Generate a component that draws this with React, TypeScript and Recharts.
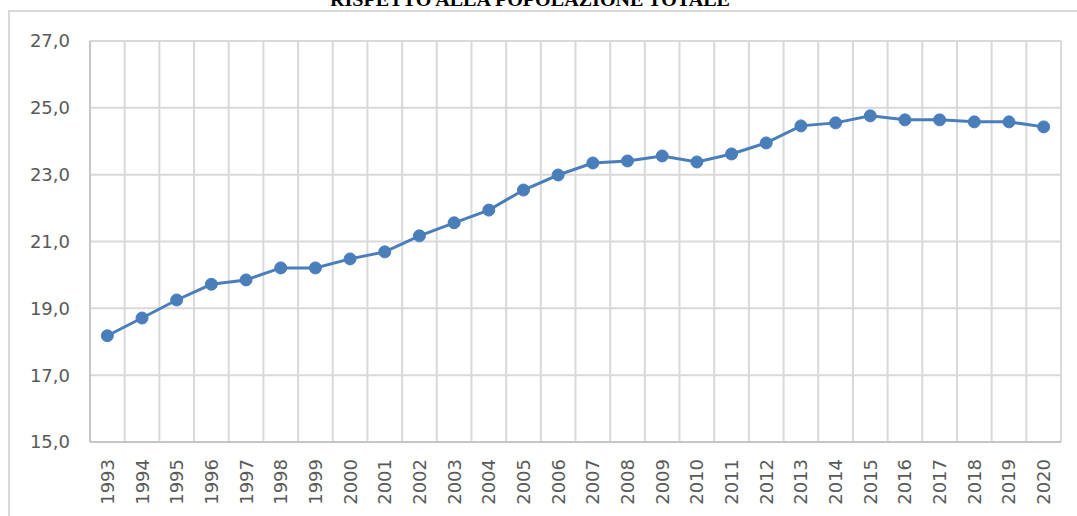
import { LineChart, Line, XAxis, YAxis, CartesianGrid } from "recharts";

const years = [
  "1993", "1994", "1995", "1996", "1997", "1998", "1999", "2000", "2001", "2002",
  "2003", "2004", "2005", "2006", "2007", "2008", "2009", "2010", "2011", "2012",
  "2013", "2014", "2015", "2016", "2017", "2018", "2019", "2020",
];
const values = [
  18.18, 18.71, 19.25, 19.72, 19.85, 20.21, 20.21, 20.48, 20.69, 21.17,
  21.56, 21.94, 22.54, 22.99, 23.35, 23.41, 23.56, 23.38, 23.62, 23.95,
  24.46, 24.55, 24.76, 24.64, 24.64, 24.58, 24.58, 24.43,
];
const yTicks = [15, 17, 19, 21, 23, 25, 27];
const title = "RISPETTO ALLA POPOLAZIONE TOTALE";

const data = years.map((year, i) => ({ year, value: values[i] }));

const BLUE = "#4a7ebb";
const GRID = "#d9d9d9";
const TEXT = "#595959";
const FONT = "'DejaVu Sans', sans-serif";

function YearTick(props: any) {
  const { x, y, payload } = props;
  return (
    <text
      x={x}
      y={y}
      transform={`rotate(-90, ${x}, ${y})`}
      textAnchor="end"
      dominantBaseline="central"
      fill={TEXT}
      fontSize={18}
      fontFamily={FONT}
    >
      {payload.value}
    </text>
  );
}

export default function App() {
  return (
    <div style={{ position: "absolute", left: 0, top: 0, width: 1077, height: 516, overflow: "hidden", background: "#fff" }}>
      <div
        style={{
          position: "absolute",
          left: 8,
          top: 10,
          width: 1069,
          height: 506,
          borderTop: `2px solid ${GRID}`,
          borderLeft: `2px solid ${GRID}`,
        }}
      />
      <svg width={1077} height={20} style={{ position: "absolute", left: 0, top: 0 }}>
        <text
          x={530}
          y={6}
          textAnchor="middle"
          fontFamily="'Liberation Serif', serif"
          fontWeight="bold"
          fontSize={19}
          textLength={400}
          lengthAdjust="spacingAndGlyphs"
          fill="#000"
        >
          {title}
        </text>
      </svg>
      <div style={{ position: "absolute", left: 0, top: 0 }}>
        <LineChart width={1077} height={516} data={data} margin={{ top: 41, right: 16, bottom: 14, left: 0 }}>
          <CartesianGrid
            stroke={GRID}
            strokeWidth={2}
            verticalCoordinatesGenerator={({ offset }: any) =>
              years.map((_, i) => offset.left + (i * offset.width) / years.length).concat(offset.left + offset.width)
            }
          />
          <XAxis
            dataKey="year"
            scale="band"
            height={60}
            interval={0}
            axisLine={{ stroke: "#c6c6c6", strokeWidth: 2 }}
            tickLine={false}
            tickSize={0}
            tick={(p: any) => <YearTick {...p} y={p.y + 15} />}
          />
          <YAxis
            width={90}
            domain={[15, 27]}
            ticks={yTicks}
            interval={0}
            axisLine={{ stroke: "#c6c6c6", strokeWidth: 2 }}
            tickLine={false}
            tickSize={0}
            tickMargin={20}
            tickFormatter={(v: number) => v.toFixed(1).replace(".", ",")}
            tick={{ fill: TEXT, fontSize: 18, fontFamily: FONT }}
          />
          <Line
            type="linear"
            dataKey="value"
            stroke={BLUE}
            strokeWidth={3}
            dot={{ r: 6, fill: BLUE, stroke: BLUE, strokeWidth: 1 }}
            activeDot={false}
            isAnimationActive={false}
          />
        </LineChart>
      </div>
    </div>
  );
}
